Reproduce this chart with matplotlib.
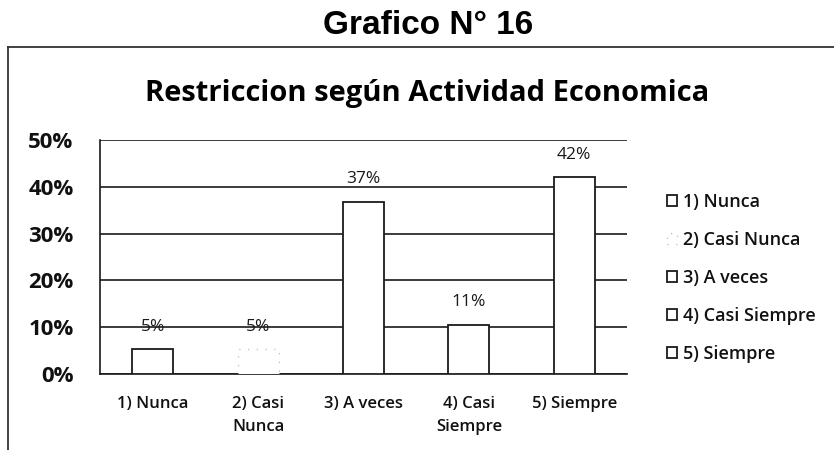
import matplotlib.pyplot as plt
from matplotlib.lines import Line2D

# data (percent)
categories = ["1) Nunca", "2) Casi Nunca", "3) A veces", "4) Casi Siempre", "5) Siempre"]
tick_labels = ["1) Nunca", "2) Casi\nNunca", "3) A veces", "4) Casi\nSiempre", "5) Siempre"]
values = [5.26, 5.26, 36.84, 10.53, 42.11]
y_ticks = [0, 10, 20, 30, 40, 50]

plt.rcParams["font.family"] = ["Open Sans", "DejaVu Sans"]

fig = plt.figure(figsize=(8.34, 4.5), dpi=100)
ax = fig.add_axes([100 / 834, 1 - 374 / 450, 527 / 834, 234 / 450])

bars = []
for i, (cat, val) in enumerate(zip(categories, values)):
    if i == 1:
        # the second bar is barely visible in the source
        b = ax.bar(i, val, width=0.39, color="white", edgecolor="#bbbbbb",
                   linestyle=(0, (1, 6)), linewidth=0.9, label=cat, zorder=3)
    else:
        b = ax.bar(i, val, width=0.39, color="white", edgecolor="#1a1a1a",
                   linewidth=1.3, label=cat, zorder=3)
    bars.append(b)
    ax.annotate(f"{val:.0f}%", (i, val), xytext=(0, 16), textcoords="offset points",
                ha="center", va="center", fontsize=12.5, color="#1a1a1a", zorder=4)

ax.set_xlim(-0.5, 4.5)
ax.set_ylim(0, 50)
ax.set_yticks(y_ticks)
ax.set_yticklabels([f"{t}%" for t in y_ticks], fontsize=16, fontweight="bold", color="#111111")
ax.set_xticks(range(len(categories)))
ax.set_xticklabels(tick_labels, fontsize=12, fontweight="semibold", color="#111111",
                   linespacing=1.6)
ax.tick_params(axis="y", length=0, pad=19)
ax.tick_params(axis="x", length=0, pad=16)
ax.yaxis.grid(True, color="#1a1a1a", linewidth=1.2, zorder=0)
ax.set_axisbelow(True)
for s in ["top", "right"]:
    ax.spines[s].set_visible(False)
for s in ["left", "bottom"]:
    ax.spines[s].set_color("#1a1a1a")
    ax.spines[s].set_linewidth(1.2)

leg = fig.legend(handles=bars, labels=categories, loc="upper left",
                 bbox_to_anchor=(660 / 834, 1 - 186 / 450), frameon=False,
                 fontsize=13, labelspacing=1.1, handlelength=0.55, handleheight=0.55,
                 handletextpad=0.3, borderaxespad=0)
for t in leg.get_texts():
    t.set_fontweight("semibold")
    t.set_color("#111111")

# titles
fig.text(428 / 834, 1 - 25 / 450, "Grafico N° 16", ha="center", va="center",
         fontsize=24, fontweight="bold", family=["Liberation Sans", "DejaVu Sans"])
fig.text(427 / 834, 1 - 93 / 450, "Restriccion según Actividad Economica", ha="center",
         va="center", fontsize=21, fontweight="bold")

# frame around the chart (left and top edges)
fig.add_artist(Line2D([8 / 834, 8 / 834], [0, 1 - 47 / 450], transform=fig.transFigure,
                      color="#333333", linewidth=1.3))
fig.add_artist(Line2D([8 / 834, 1], [1 - 47 / 450, 1 - 47 / 450], transform=fig.transFigure,
                      color="#333333", linewidth=1.3))

fig.savefig("out.png", dpi=100)
